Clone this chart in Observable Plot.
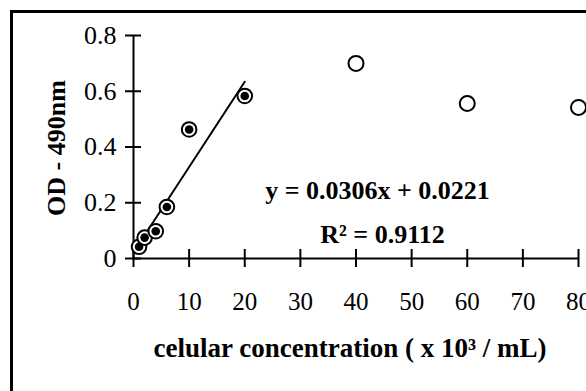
<!DOCTYPE html>
<html>
<head>
<meta charset="utf-8">
<script src="https://cdn.jsdelivr.net/npm/d3@7"></script>
<script src="https://cdn.jsdelivr.net/npm/@observablehq/plot@0.6"></script>
<style>
  html, body { margin: 0; padding: 0; background: white; overflow: hidden; }
  #wrap { position: relative; width: 586px; height: 391px; overflow: hidden; }
  #frame { position: absolute; left: 10px; top: 10px; width: 600px; height: 400px; border: 3px solid black; pointer-events: none; }
  #chart svg, #chart svg text, #chart svg tspan { font-family: "Liberation Serif", "Times New Roman", serif !important; }
</style>
</head>
<body>
<div id="wrap"><div id="chart"></div><div id="frame"></div></div>
<script>
// Data
const xTicks = [0, 10, 20, 30, 40, 50, 60, 70, 80];
const yTicks = [0, 0.2, 0.4, 0.6, 0.8];
const yTickLabels = ["0", "0.2", "0.4", "0.6", "0.8"];
const filledX = [1, 2, 4, 6, 10, 20];
const filledY = [0.042, 0.075, 0.098, 0.185, 0.463, 0.583];
const openX = [40, 60, 80];
const openY = [0.70, 0.556, 0.542];
const slope = 0.0306;
const intercept = 0.0221;
const rSquared = 0.9112;
const xLabel = "celular concentration ( x 10³ / mL)";
const yLabel = "OD - 490nm";
const eqLine1 = `y = ${slope}x + ${intercept}`;
const eqLine2 = `R² = ${rSquared}`;

const filled = filledX.map((x, i) => ({x, y: filledY[i]}));
const open = openX.map((x, i) => ({x, y: openY[i]}));
const xMin = d3.min(filledX), xMax = d3.max(filledX);
const trend = [xMin, xMax].map(x => ({x, y: slope * x + intercept}));

const W = 586, H = 391;
const mL = 133, mR = 8, mT = 35, mB = 133;
const pw = W - mL - mR, ph = H - mT - mB;
const FONT = "Liberation Serif";

const chart = Plot.plot({
  width: W, height: H,
  marginLeft: mL, marginRight: mR, marginTop: mT, marginBottom: mB,
  x: {domain: [0, 80]},
  y: {domain: [0, 0.8]},
  style: {fontFamily: FONT, fontSize: "25px", background: "white", color: "black", overflow: "hidden"},
  marks: [
    // cross ticks
    Plot.ruleX(xTicks, {insetTop: ph - 9, insetBottom: -9, strokeWidth: 2, stroke: "black"}),
    Plot.ruleY(yTicks, {insetLeft: -8, insetRight: pw - 8, strokeWidth: 2, stroke: "black"}),
    // axis lines
    Plot.ruleX([0], {strokeWidth: 2, stroke: "black"}),
    Plot.ruleY([0], {strokeWidth: 2, stroke: "black"}),
    Plot.axisX({ticks: xTicks, tickSize: 0, tickPadding: 34, label: null, fontSize: 25, fontFamily: FONT}),
    Plot.axisY({ticks: yTicks, tickSize: 0, tickPadding: 17, label: null, fontSize: 26, fontFamily: FONT,
      tickFormat: (d) => yTickLabels[yTicks.indexOf(d)]}),
    // trendline
    Plot.line(trend, {x: "x", y: "y", stroke: "black", strokeWidth: 2}),
    // filled points
    Plot.dot(filled, {x: "x", y: "y", r: 7.3, stroke: "black", strokeWidth: 2, fill: "white"}),
    Plot.dot(filled, {x: "x", y: "y", r: 4.3, fill: "black"}),
    // open points
    Plot.dot(open, {x: "x", y: "y", r: 7.5, stroke: "black", strokeWidth: 2, fill: "white"}),
    // labels
    Plot.text([xLabel], {frameAnchor: "bottom", dx: -6, dy: 90, textAnchor: "middle", fontWeight: "bold", fontSize: 27, fontFamily: FONT, lineAnchor: "middle", fill: "black"}),
    Plot.text([yLabel], {frameAnchor: "left", dx: -77, dy: 1, rotate: -90, textAnchor: "middle", fontWeight: "bold", fontSize: 26, fontFamily: FONT, lineAnchor: "middle", fill: "black"}),
    Plot.text([eqLine1], {frameAnchor: "top-left", dx: 244, dy: 155, textAnchor: "middle", fontWeight: "bold", fontSize: 26, fontFamily: FONT, lineAnchor: "middle", fill: "black"}),
    Plot.text([eqLine2], {frameAnchor: "top-left", dx: 249, dy: 199, textAnchor: "middle", fontWeight: "bold", fontSize: 26, fontFamily: FONT, lineAnchor: "middle", fill: "black"})
  ]
});
d3.select(chart).attr("font-family", FONT).selectAll("text").style("font-family", FONT);
document.getElementById("chart").appendChild(chart);
</script>
</body>
</html>
